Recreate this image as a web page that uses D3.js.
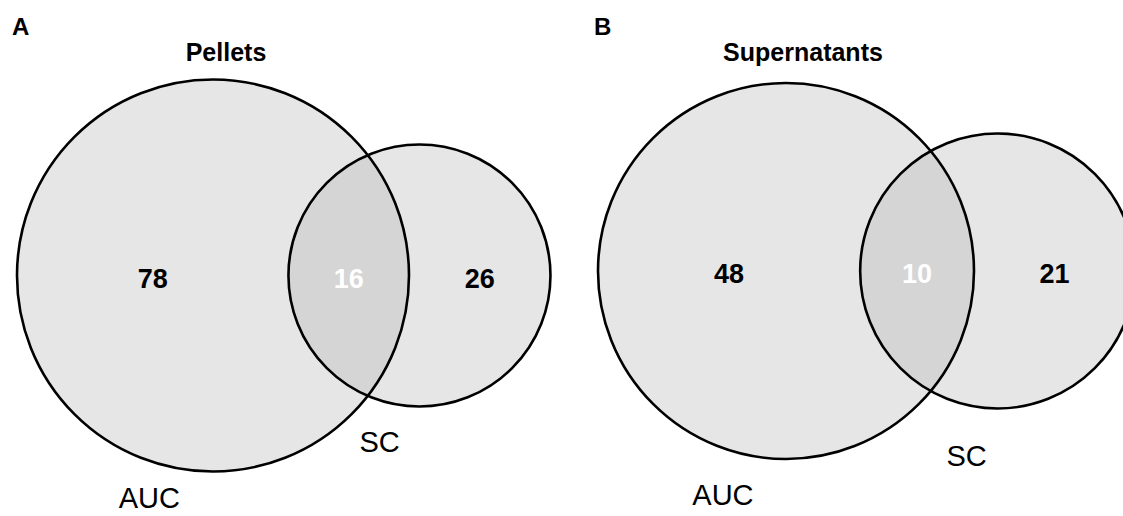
<!DOCTYPE html>
<html lang="en">
<head>
    <meta charset="UTF-8">
    <title>Venn</title>
    <style>
        body { margin: 0; background: #fff; }
        text { font-family: "Liberation Sans", Arial, sans-serif; }
    </style>
</head>
<body>
<script src="https://d3js.org/d3.v7.min.js"></script>
<script>
    // counts
    var panelLetters = ['A', 'B'],
        panelTitles = ['Pellets', 'Supernatants'],
        setNames = ['AUC', 'SC'],
        aucOnly = [78, 48],
        overlap = [16, 10],
        scOnly = [26, 21];

    var width = 1123,
        height = 516;

    // where each panel's big circle sits and how large it is drawn,
    // plus angle (deg) / gap of each set name below its circle
    var layout = [
        {cx: 213, cy: 275.5, r: 196, letterX: 12, titleX: 226,
         names: [{ang: 16, gap: 35}, {ang: 13.5, gap: 40}]},
        {cx: 786, cy: 271, r: 188, letterX: 594, titleX: 803,
         names: [{ang: 15.7, gap: 45}, {ang: 9.5, gap: 50}]}
    ];

    var svg = d3.select('body').append('svg')
                .attr('width', width)
                .attr('height', height);

    function lensArea(r1, r2, d) {
        if (d >= r1 + r2) return 0;
        if (d <= Math.abs(r1 - r2)) return Math.PI * Math.pow(Math.min(r1, r2), 2);
        var a1 = r1 * r1 * Math.acos((d * d + r1 * r1 - r2 * r2) / (2 * d * r1)),
            a2 = r2 * r2 * Math.acos((d * d + r2 * r2 - r1 * r1) / (2 * d * r2)),
            k = 0.5 * Math.sqrt((-d + r1 + r2) * (d + r1 - r2) * (d - r1 + r2) * (d + r1 + r2));
        return a1 + a2 - k;
    }

    function findDistance(r1, r2, target) {
        var lo = Math.abs(r1 - r2), hi = r1 + r2;
        for (var i = 0; i < 60; i++) {
            var mid = (lo + hi) / 2;
            if (lensArea(r1, r2, mid) > target) lo = mid; else hi = mid;
        }
        return (lo + hi) / 2;
    }

    function renderPanel(i) {
        var L = layout[i],
            totalA = aucOnly[i] + overlap[i],
            totalB = scOnly[i] + overlap[i];

        var rScale = d3.scaleSqrt().domain([0, totalA]).range([0, L.r]);
        var r1 = rScale(totalA),
            r2 = rScale(totalB),
            unitArea = Math.PI * r1 * r1 / totalA,
            d = findDistance(r1, r2, overlap[i] * unitArea);

        var c1 = {x: L.cx, y: L.cy, r: r1},
            c2 = {x: L.cx + d, y: L.cy, r: r2};

        var g = svg.append('g').attr('class', 'panel-' + i);

        g.append('text')
         .attr('x', L.letterX).attr('y', 35)
         .attr('font-size', 24).attr('font-weight', 'bold')
         .text(panelLetters[i]);

        g.append('text')
         .attr('x', L.titleX).attr('y', 61)
         .attr('text-anchor', 'middle')
         .attr('font-size', 25).attr('font-weight', 'bold')
         .text(panelTitles[i]);

        g.selectAll('circle.fill')
         .data([c1, c2])
         .enter().append('circle')
         .attr('class', 'fill')
         .attr('cx', function(c) { return c.x; })
         .attr('cy', function(c) { return c.y; })
         .attr('r', function(c) { return c.r; })
         .attr('fill', '#e6e6e6');

        g.append('clipPath').attr('id', 'clip-' + i)
         .append('circle')
         .attr('cx', c1.x).attr('cy', c1.y).attr('r', c1.r);

        g.append('circle')
         .attr('cx', c2.x).attr('cy', c2.y).attr('r', c2.r)
         .attr('clip-path', 'url(#clip-' + i + ')')
         .attr('fill', '#d5d5d5');

        g.selectAll('circle.edge')
         .data([c1, c2])
         .enter().append('circle')
         .attr('class', 'edge')
         .attr('cx', function(c) { return c.x; })
         .attr('cy', function(c) { return c.y; })
         .attr('r', function(c) { return c.r; })
         .attr('fill', 'none')
         .attr('stroke', '#000')
         .attr('stroke-width', 2.6);

        var counts = [
            {v: aucOnly[i], x: (c1.x - c1.r + c2.x - c2.r) / 2, col: '#000'},
            {v: overlap[i], x: (c2.x - c2.r + c1.x + c1.r) / 2, col: '#fff'},
            {v: scOnly[i], x: (c1.x + c1.r + c2.x + c2.r) / 2, col: '#000'}
        ];

        g.selectAll('text.count')
         .data(counts)
         .enter().append('text')
         .attr('class', 'count')
         .attr('x', function(c) { return c.x; })
         .attr('y', L.cy + 12)
         .attr('text-anchor', 'middle')
         .attr('font-size', 27).attr('font-weight', 'bold')
         .attr('fill', function(c) { return c.col; })
         .text(function(c) { return c.v; });

        // set names sit just outside the lower-left rim of each circle
        var names = [
            {c: c1, name: setNames[0], pos: L.names[0]},
            {c: c2, name: setNames[1], pos: L.names[1]}
        ];
        g.selectAll('text.set')
         .data(names)
         .enter().append('text')
         .attr('class', 'set')
         .attr('x', function(s) { return s.c.x - (s.c.r + s.pos.gap) * Math.sin(s.pos.ang * Math.PI / 180); })
         .attr('y', function(s) { return s.c.y + (s.c.r + s.pos.gap) * Math.cos(s.pos.ang * Math.PI / 180) + 10; })
         .attr('text-anchor', 'middle')
         .attr('font-size', 29)
         .text(function(s) { return s.name; });
    }

    renderPanel(0);
    renderPanel(1);
</script>
</body>
</html>
